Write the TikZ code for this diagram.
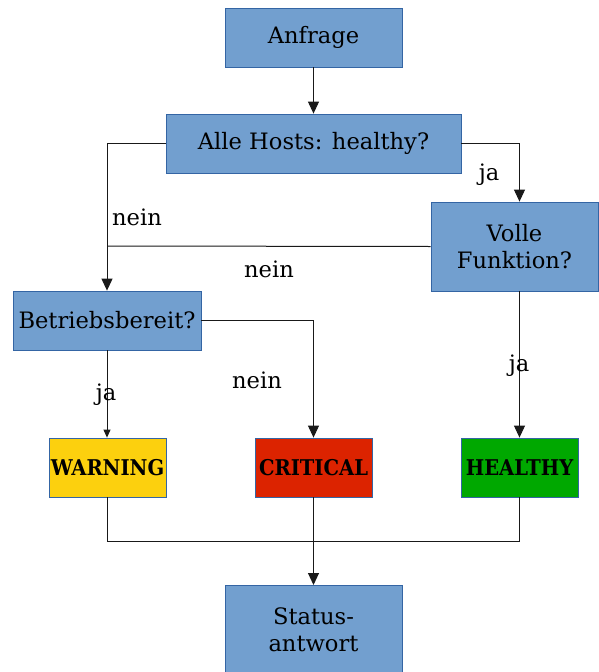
\documentclass[tikz,border=0pt]{standalone}
\usepackage{fontspec}
\setmainfont{DejaVu Serif}
\newfontfamily\statfont{DejaVu Serif Condensed Bold}
\usetikzlibrary{arrows.meta}
\definecolor{boxblue}{HTML}{729FCF}
\definecolor{boxedge}{HTML}{3465A4}
\definecolor{warnyellow}{HTML}{FCD00E}
\definecolor{critred}{HTML}{DC2300}
\definecolor{okgreen}{HTML}{00A800}
\tikzset{
  stepbox/.style={draw=boxedge, fill=boxblue, line width=0.8pt, inner sep=0pt,
    align=center, font=\fontsize{22.6}{27}\selectfont},
  statebox/.style={draw=boxedge, line width=0.8pt, inner sep=0pt,
    minimum width=117pt, minimum height=59pt, font=\statfont\fontsize{21.7}{26}\selectfont},
  flow/.style={draw=black!90, line width=1pt},
  tip/.style={-{Triangle[length=12pt,width=11pt]}},
  smalltip/.style={-{Triangle[length=8pt,width=7pt]}},
  lbl/.style={font=\fontsize{22.6}{27}\selectfont, inner sep=0pt}
}
\begin{document}
\begin{tikzpicture}[x=1pt,y=-1pt]
\useasboundingbox (0,0) rectangle (598,672);
% decision and step boxes
\node[stepbox, minimum width=177pt, minimum height=59pt] (req) at (313.5,37.5) {Anfrage};
\node[stepbox, minimum width=295pt, minimum height=59pt] (hosts) at (313.5,143.5) {Alle Hosts: healthy?};
\node[stepbox, minimum width=167pt, minimum height=89pt] (full) at (514.5,246.5) {Volle\\Funktion?};
\node[stepbox, minimum width=188pt, minimum height=59pt] (ready) at (107,320.5) {Betriebsbereit?};
\node[stepbox, minimum width=177pt, minimum height=89pt, anchor=north] (resp) at (313.5,585) {Status-\\antwort};
% result states
\node[statebox, fill=warnyellow] (warn) at (107.5,467.5) {WARNING};
\node[statebox, fill=critred] (crit) at (313.5,467.5) {CRITICAL};
\node[statebox, fill=okgreen] (ok) at (519.5,467.5) {HEALTHY};
% junction points
\coordinate (jl) at (107,246);
\coordinate (jb) at (313.5,541);
% connectors
\draw[flow, tip] (req) -- (hosts);
\draw[flow, tip] (hosts.west) -| (ready.north);
\draw[flow, tip] (hosts.east) -| (full.north -| ok.north);
\draw[flow] (full.west) -- (jl);
\draw[flow, tip] (full.south -| ok.north) -- (ok.north);
\draw[flow, tip] (ready.east) -| (crit.north);
\draw[flow, smalltip] (ready.south) -- (warn.north -| ready.south);
\draw[flow] (warn.south) |- (jb);
\draw[flow] (ok.south) |- (jb);
\draw[flow, tip] (crit.south) -- (resp.north);
% branch labels
\node[lbl] at (137,217) {nein};
\node[lbl] at (489,175) {ja};
\node[lbl] at (269,269) {nein};
\node[lbl] at (519,366) {ja};
\node[lbl] at (257,380) {nein};
\node[lbl] at (106,395) {ja};
\end{tikzpicture}
\end{document}
